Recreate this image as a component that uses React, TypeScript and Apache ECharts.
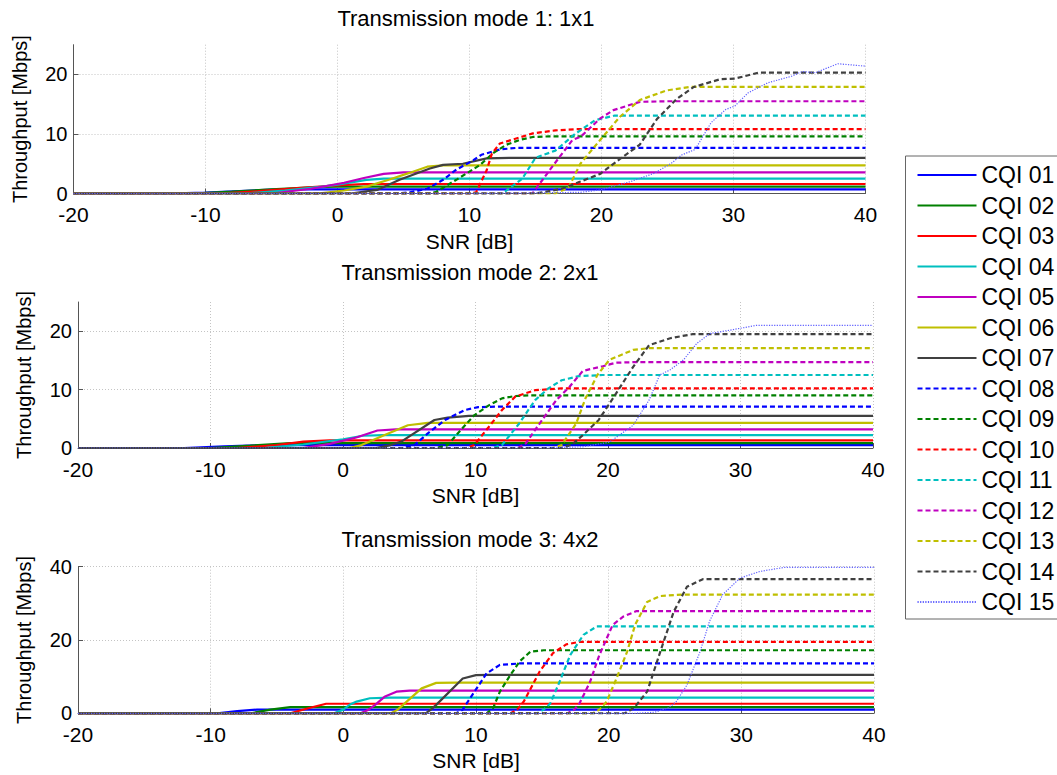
import React, { useEffect, useRef } from "react";
import * as echarts from "echarts";

// ---------- data ----------
const cqiNames = [
  "CQI 01", "CQI 02", "CQI 03", "CQI 04", "CQI 05", "CQI 06", "CQI 07", "CQI 08",
  "CQI 09", "CQI 10", "CQI 11", "CQI 12", "CQI 13", "CQI 14", "CQI 15",
];

const panelTitles = [
  "Transmission mode 1: 1x1",
  "Transmission mode 2: 2x1",
  "Transmission mode 3: 4x2",
];

const xTicks = [-20, -10, 0, 10, 20, 30, 40];
const yMaxes = [25, 25, 40];
const yIntervals = [10, 10, 20];

// SNR [dB], throughput [Mbps] — Transmission mode 1: 1x1
const mode1Curves: number[][][] = [
  [[-20, 0], [-13, 0], [-10, 0.15], [-7, 0.45], [-5, 0.65], [-3, 0.7], [40, 0.7]],
  [[-20, 0], [-11, 0], [-8, 0.3], [-5, 0.7], [-2, 1.05], [0, 1.15], [40, 1.15]],
  [[-20, 0], [-9, 0], [-6, 0.4], [-3, 0.9], [0, 1.35], [2, 1.6], [40, 1.6]],
  [[-20, 0], [-7, 0], [-4, 0.5], [-1, 1.2], [0, 1.5], [2.2, 2.3], [3.5, 2.5], [40, 2.5]],
  [[-20, 0], [-5, 0], [-2, 0.8], [0.5, 1.8], [2, 2.6], [3.5, 3.3], [5, 3.55], [40, 3.56]],
  [[-20, 0], [-1.5, 0], [0.5, 0.5], [2.2, 1.15], [4, 2.4], [5.5, 3.5], [6.8, 4.5], [8, 4.73], [40, 4.73]],
  [[-20, 0], [1, 0], [3, 0.6], [4.7, 2.3], [7, 4.2], [8, 4.8], [9.5, 5.0], [11.3, 5.9], [13, 5.97], [40, 5.97]],
  [[-20, 0], [4.5, 0], [5.5, 0.2], [6.8, 0.8], [8, 2.3], [9, 4], [10.3, 5.6], [10.9, 6.5], [12.3, 7.4], [13.5, 7.65], [40, 7.65]],
  [[-20, 0], [7, 0], [7.5, 0.3], [9, 2.3], [10.8, 4.8], [11.8, 6.8], [12.8, 8.2], [13.8, 9], [14.8, 9.5], [16, 9.6], [40, 9.6]],
  [[-20, 0], [10, 0], [10.5, 0.2], [11.3, 3.9], [11.7, 6.7], [12.3, 8.4], [14.8, 10.1], [16.5, 10.6], [18.1, 10.8], [40, 10.8]],
  [[-20, 0], [12.5, 0], [14, 2.5], [15, 6], [16.5, 7.2], [18, 10], [19.5, 12.3], [21, 13.1], [40, 13.1]],
  [[-20, 0], [14.5, 0], [14.8, 0.1], [16.3, 4.6], [17.8, 9], [18.4, 9.5], [19.9, 12.6], [20.9, 14], [22.9, 15.4], [25, 15.5], [40, 15.5]],
  [[-20, 0], [16.5, 0], [17.5, 1], [18.4, 5], [19.9, 9], [21.4, 12.9], [22.9, 15.7], [24.9, 17.3], [26.7, 17.9], [40, 17.9]],
  [[-20, 0], [15, 0], [17, 0.8], [18.4, 2], [19.9, 3.3], [21.4, 5.8], [22.9, 8.2], [24.2, 12.5], [25.7, 15.9], [27, 17.9], [29, 19.2], [30.1, 19.3], [31.9, 20.3], [40, 20.3]],
  [[-20, 0], [10, 0], [15, 0.1], [18.4, 0.2], [19.9, 0.6], [22.2, 2], [24, 3.4], [25.3, 5.1], [26.1, 6.5], [27.1, 7.4], [28.3, 11.9], [29.4, 14.1], [30.1, 14.7], [31.1, 16.9], [32.6, 18.6], [34.4, 19.7], [35.2, 20.5], [36.2, 20.3], [37.9, 21.8], [40, 21.4]],
];

// Transmission mode 2: 2x1
const mode2Curves: number[][][] = [
  [[-20, 0], [-12, 0], [-9, 0.3], [-6, 0.5], [40, 0.5]],
  [[-20, 0], [-10, 0], [-7, 0.4], [-4, 0.85], [40, 0.85]],
  [[-20, 0], [-8, 0], [-5, 0.5], [-3, 1.1], [-1, 1.3], [40, 1.3]],
  [[-20, 0], [-6, 0], [-3, 0.6], [0, 1.5], [1.5, 2.1], [3, 2.2], [40, 2.2]],
  [[-20, 0], [-3, 0], [-1, 0.7], [1, 1.8], [2.6, 3.0], [4, 3.2], [40, 3.2]],
  [[-20, 0], [0.5, 0], [1.4, 0.5], [3.1, 2.2], [4.9, 3.9], [6.4, 4.3], [40, 4.3]],
  [[-20, 0], [2.5, 0], [3.6, 0.5], [4.4, 1.1], [6.9, 4.8], [7.9, 5.2], [9.5, 5.5], [40, 5.5]],
  [[-20, 0], [4.5, 0], [5.4, 0.5], [6.4, 2.5], [7.7, 4.8], [9.2, 6.5], [10.2, 7], [12, 7.1], [40, 7.1]],
  [[-20, 0], [7, 0], [7.9, 0.5], [8.9, 3.1], [9.9, 5.6], [11, 7.3], [12, 8.5], [13, 8.9], [14, 9], [40, 9]],
  [[-20, 0], [9.3, 0], [9.9, 0.5], [11, 3.6], [12, 6.5], [13, 8.8], [14.5, 9.9], [16.5, 10.2], [40, 10.2]],
  [[-20, 0], [11.3, 0], [12, 0.5], [13.3, 4.2], [14.5, 8.2], [15.5, 10.2], [16.5, 11.6], [17.8, 12.3], [19.6, 12.5], [40, 12.5]],
  [[-20, 0], [13.2, 0], [13.8, 0.8], [14.5, 3.1], [16.1, 8.2], [17.1, 10.5], [18.1, 13.2], [19.6, 14], [20.6, 14.6], [22, 14.7], [40, 14.7]],
  [[-20, 0], [15.8, 0], [16.5, 0.5], [17.6, 4.2], [18.3, 8.5], [19.2, 12.5], [20.1, 15.1], [21.9, 16.8], [23.1, 17.1], [40, 17.1]],
  [[-20, 0], [16.5, 0], [17.3, 0.6], [18.1, 2.2], [19.3, 4.8], [20.6, 9.3], [21.9, 13.9], [23.1, 17.6], [24.7, 18.8], [26.4, 19.5], [40, 19.5]],
  [[-20, 0], [15, 0], [18.1, 0.2], [20.1, 1], [21.9, 3.9], [23.1, 8.2], [23.9, 12.5], [24.7, 13.4], [25.7, 15.1], [26.7, 17.9], [27.7, 19.6], [29.5, 20.3], [31.2, 21], [40, 21]],
];

// Transmission mode 3: 4x2
const mode3Curves: number[][][] = [
  [[-20, 0], [-9.5, 0], [-8, 0.6], [-6.5, 1], [40, 1]],
  [[-20, 0], [-7, 0], [-5.5, 1], [-4, 1.7], [40, 1.7]],
  [[-20, 0], [-4, 0], [-2.5, 1.5], [-1.3, 2.6], [40, 2.6]],
  [[-20, 0], [-0.7, 0], [0, 1], [0.5, 2.4], [1, 3.2], [2, 4.1], [3.5, 4.3], [40, 4.3]],
  [[-20, 0], [1.3, 0], [1.9, 1], [2.4, 2.3], [3.1, 4.5], [4, 5.9], [5, 6.2], [40, 6.2]],
  [[-20, 0], [3.6, 0], [4.1, 1], [4.5, 2.3], [5.9, 6.8], [7, 8.3], [8.5, 8.35], [40, 8.35]],
  [[-20, 0], [6.2, 0], [6.6, 1], [7, 2.3], [9, 9.5], [10, 10.4], [11, 10.5], [40, 10.5]],
  [[-20, 0], [8.5, 0], [9, 1], [9.3, 2.7], [10.05, 6.8], [10.8, 10.9], [11.8, 13.2], [13.3, 13.6], [40, 13.6]],
  [[-20, 0], [10.8, 0], [11.3, 1.5], [11.8, 5.9], [12.6, 10.5], [13.3, 14.2], [14.1, 16.8], [15.1, 17.2], [40, 17.2]],
  [[-20, 0], [12.6, 0], [13.1, 1], [13.6, 3.2], [14.8, 11.4], [15.8, 16.4], [16.8, 18.8], [17.8, 19.5], [40, 19.5]],
  [[-20, 0], [14.6, 0], [15.1, 1], [15.6, 2.7], [16.3, 8.6], [17.1, 15.9], [18.1, 21.4], [19.1, 23.7], [40, 23.7]],
  [[-20, 0], [16.9, 0], [17.4, 1], [17.8, 2.7], [18.6, 8.6], [19.3, 15.9], [20.3, 24.1], [21.1, 26.4], [22.1, 27.9], [40, 27.9]],
  [[-20, 0], [18.8, 0], [19.3, 1], [19.85, 3.2], [20.6, 9.6], [21.4, 16.9], [22, 24.2], [22.9, 30.4], [23.9, 32], [25.6, 32.4], [40, 32.4]],
  [[-20, 0], [21.2, 0], [21.7, 1], [22.1, 2.3], [22.9, 5.9], [23.9, 16.9], [24.9, 27.7], [25.9, 34.5], [27.1, 36.6], [40, 36.6]],
  [[-20, 0], [22, 0], [23.5, 0.3], [24.5, 1.5], [25.1, 3.2], [25.9, 7.7], [26.9, 16.9], [27.6, 25.1], [28.6, 32.4], [29.9, 36.9], [31.4, 38.7], [33.2, 39.8], [40, 39.8]],
];

const modes = [mode1Curves, mode2Curves, mode3Curves];

// ---------- styles ----------
const lineColors = [
  "#0000FF", "#008000", "#FF0000", "#00BFBF", "#BF00BF", "#BFBF00", "#404040",
  "#0000FF", "#008000", "#FF0000", "#00BFBF", "#BF00BF", "#BFBF00", "#404040",
  "#6060FF",
];

const FONT = '"Liberation Sans", Arial, Helvetica, sans-serif';

const gridBoxes = [
  { left: 73.5, top: 44.7, width: 792, height: 148.8 },
  { left: 78, top: 302, width: 795, height: 146 },
  { left: 78, top: 566.7, width: 796, height: 146.6 },
];

function lineTypeFor(i: number): any {
  if (i < 7) return "solid";
  if (i < 14) return [5, 3];
  return [1.2, 1.4];
}

export default function App() {
  const ref = useRef<HTMLDivElement>(null);

  useEffect(() => {
    if (!ref.current) return;
    const chart = echarts.init(ref.current, undefined, { renderer: "svg" });

    const axisLineStyle = { color: "#555", width: 1 };
    const gridLineStyle = { color: "#c4c4c4", width: 1, type: [1, 2] as any };

    const xAxes = gridBoxes.map((_, m) => ({
      type: "value",
      gridIndex: m,
      min: xTicks[0],
      max: xTicks[xTicks.length - 1],
      interval: 10,
      name: "SNR [dB]",
      nameLocation: "middle",
      nameGap: 37,
      nameTextStyle: { fontFamily: FONT, fontSize: 21, color: "#000" },
      axisLine: { show: true, onZero: false, lineStyle: axisLineStyle },
      axisTick: { show: true, inside: true, length: 5, lineStyle: axisLineStyle },
      axisLabel: { fontFamily: FONT, fontSize: 21, lineHeight: 15, color: "#000", margin: 13.5 },
      splitLine: { show: true, lineStyle: gridLineStyle, showMinLine: false },
    }));

    const yAxes = gridBoxes.map((_, m) => ({
      type: "value",
      gridIndex: m,
      min: 0,
      max: yMaxes[m],
      interval: yIntervals[m],
      name: "Throughput [Mbps]",
      nameLocation: "middle",
      nameGap: 44,
      nameTextStyle: { fontFamily: FONT, fontSize: 20, color: "#000" },
      axisLine: { show: true, onZero: false, lineStyle: axisLineStyle },
      axisTick: { show: true, inside: true, length: 5, lineStyle: axisLineStyle },
      axisLabel: { fontFamily: FONT, fontSize: 20, lineHeight: 15, color: "#000", margin: 6, showMaxLabel: m === 2 },
      splitLine: { show: true, lineStyle: gridLineStyle, showMinLine: false, showMaxLine: m === 2 },
    }));

    const series: any[] = [];
    modes.forEach((curves, m) => {
      curves.forEach((pts, i) => {
        series.push({
          type: "line",
          name: cqiNames[i],
          xAxisIndex: m,
          yAxisIndex: m,
          data: pts,
          symbol: "none",
          silent: true,
          lineStyle: {
            color: lineColors[i],
            width: i === 14 ? 1.2 : 2.2,
            type: lineTypeFor(i),
          },
          itemStyle: { color: lineColors[i] },
        });
      });
    });

    const titleCenters = [
      { x: 466, y: 7 },
      { x: 470, y: 261 },
      { x: 470, y: 528 },
    ];

    chart.setOption({
      animation: false,
      backgroundColor: "#fff",
      title: panelTitles.map((t, m) => ({
        text: t,
        left: titleCenters[m].x,
        top: titleCenters[m].y,
        textAlign: "center",
        padding: 0,
        textStyle: { fontFamily: FONT, fontSize: 22, fontWeight: "normal", color: "#000" },
      })),
      legend: {
        orient: "vertical",
        left: 905.5,
        top: 156,
        itemWidth: 59,
        itemHeight: 14,
        itemGap: 7.5,
        padding: [7.5, 60, 5.5, 11],
        borderColor: "#666",
        borderWidth: 1,
        backgroundColor: "#fff",
        selectedMode: false,
        itemStyle: { opacity: 0, borderWidth: 0 },
        data: cqiNames,
        textStyle: { fontFamily: FONT, fontSize: 23, color: "#000", lineHeight: 23 },
      },
      grid: gridBoxes.map((g) => ({ ...g, containLabel: false })),
      xAxis: xAxes,
      yAxis: yAxes,
      series,
    });

    return () => {
      chart.dispose();
    };
  }, []);

  return (
    <div
      ref={ref}
      style={{ position: "fixed", left: 0, top: 0, width: 1057, height: 775, background: "#fff" }}
    />
  );
}
